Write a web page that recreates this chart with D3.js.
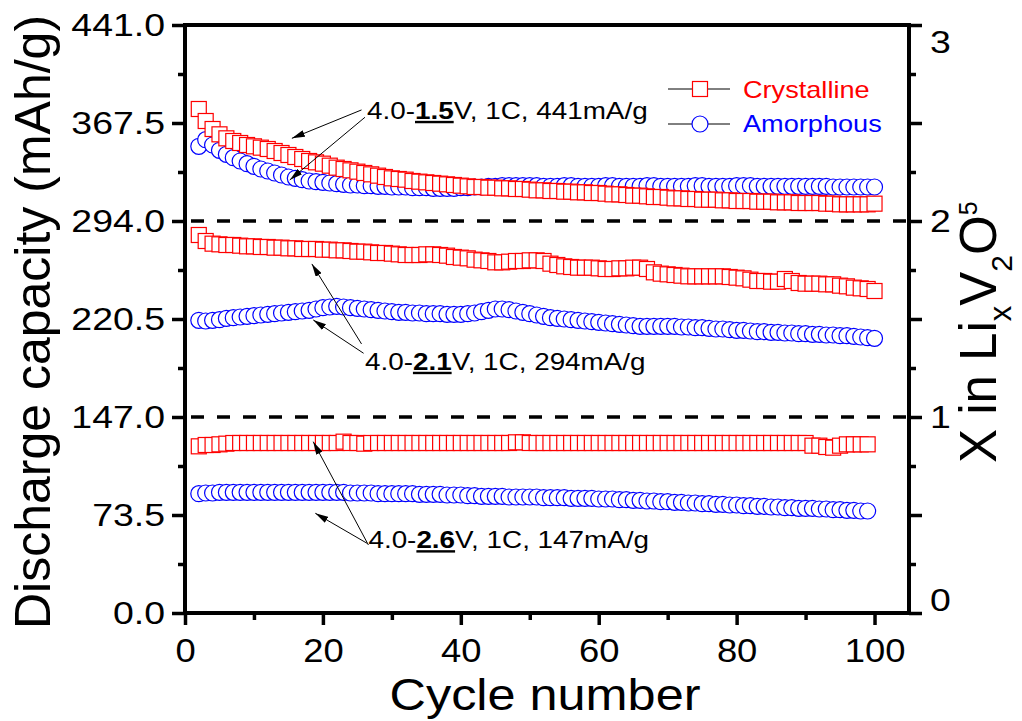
<!DOCTYPE html>
<html>
<head>
<meta charset="utf-8">
<script src="https://cdn.jsdelivr.net/npm/d3@7"></script>
<style>
  body { margin: 0; background: #fff; }
  svg { display: block; font-family: "Liberation Sans", Arial, sans-serif; }
</style>
</head>
<body>
<svg id="chart" width="1022" height="721"></svg>
<script>
// Cycle numbers (the 2.6 V runs stop at cycle 99).
const cycles = d3.range(2, 101);
const cyclesLow = d3.range(2, 100);

// Discharge capacity (mAh/g).
const cryst15 = [
  378, 369, 363, 359, 356, 354, 352.5, 351, 350, 349,
  348, 346.5, 345, 343.5, 342, 340.5, 339, 338, 337, 335.5,
  334, 333, 332, 331, 330, 329, 328, 327, 326, 325.5,
  325, 324, 323.5, 323, 322.5, 322, 321.5, 321, 320.5, 320,
  319.5, 319.5, 319, 319, 318.5, 318.5, 318, 318, 317.5, 317,
  317, 316.5, 316.5, 316, 316, 315.5, 315.5, 315, 315, 314.5,
  314, 314, 313.5, 313, 313, 312.5, 312, 312, 311.5, 311,
  311, 310.5, 310.5, 310, 310, 310, 309.5, 309.5, 309, 309,
  309, 308.5, 308.5, 308.5, 308, 308, 308, 307.5, 307.5, 307.5,
  307.5, 307, 307, 306.5, 306.5, 306.5, 306.5, 306.5, 307
];
const amorph15 = [
  350, 355, 351, 347, 344, 341.5, 339, 337, 335, 333,
  331.5, 330, 328.5, 327, 326, 325, 324, 323.5, 323, 322.5,
  322, 321.5, 321, 321, 320.5, 320.5, 320, 320, 319.5, 319.5,
  319.5, 319, 319, 319, 318.5, 318.5, 318.5, 318.5, 319, 319,
  319.5, 319.5, 320, 320, 320.5, 320.5, 320.5, 320.5, 320.5, 320.5,
  320, 320, 320, 320.5, 320.5, 320, 320, 320, 320, 320.5,
  320.5, 320, 320, 320, 320, 320.5, 320.5, 320, 320, 320,
  320, 320, 320.5, 320.5, 320, 320, 320, 320, 320.5, 320.5,
  320.5, 320, 320, 320, 320, 320, 320, 320, 320, 320,
  320, 320, 319.5, 319.5, 319.5, 319.5, 319.5, 319.5, 319.5
];
const cryst21 = [
  283.5, 279, 277, 276.5, 276, 276, 275.5, 275, 275, 274.5,
  274.5, 274, 274, 273.5, 273.5, 273, 273, 273, 272.5, 272.5,
  272, 272, 271.5, 271, 271, 270.5, 270, 270, 269.5, 269,
  268.5, 268.5, 268.5, 269, 269, 268.5, 268, 267, 266.5, 266,
  265, 264.5, 264, 263, 263, 263.5, 264, 264, 264.5, 264.5,
  264, 262, 261, 260, 259.5, 259, 259, 259, 258.5, 258,
  258, 258.5, 258.5, 259, 259, 258, 255.5, 254.5, 254, 253.5,
  253, 252.5, 252.5, 252.5, 252.5, 252.5, 252.5, 252, 251.5, 251,
  250, 249, 249, 248.5, 248.5, 250.5, 249, 247.5, 247, 247,
  247, 246.5, 246.5, 245.5, 245, 244, 243.5, 243, 241.5
];
const amorph21 = [
  219.5, 219, 219.5, 220, 221, 221.5, 222, 222.5, 223, 223.5,
  224, 224.5, 225, 225.5, 226, 226.5, 227, 228, 229, 229.5,
  230, 229.5, 229, 228.5, 228, 227.5, 227, 226.5, 226, 225.5,
  225.5, 225, 225, 224.5, 224.5, 224.5, 224, 224, 224, 224.5,
  225, 226, 227, 228, 228, 227.5, 226.5, 225.5, 224.5, 223.5,
  222.5, 221.5, 221, 220.5, 220, 219.5, 219, 218.5, 218, 217.5,
  217, 216.5, 216, 215.5, 215, 215, 215, 215, 215, 215,
  214.5, 214.5, 214, 214, 213.5, 213, 213, 212.5, 212, 212,
  211.5, 211, 211, 210.5, 210.5, 210, 210, 209.5, 209.5, 209,
  209, 208.5, 208.5, 208, 208, 207.5, 207, 206.5, 206
];
const cryst26 = [
  125, 126, 126, 126.5, 127, 127.5, 127.5, 127.5, 127.5, 127.5,
  127.5, 127.5, 127.5, 127.5, 127.5, 127.5, 127.5, 127.5, 127.5, 127.5,
  127.5, 128.5, 127.5, 127.5, 127, 127.5, 127.5, 127.5, 127.5, 127.5,
  127.5, 127.5, 127.5, 127.5, 127.5, 127.5, 127.5, 127.5, 127.5, 127.5,
  127.5, 127.5, 127.5, 127.5, 127.5, 127.5, 128, 128, 127.5, 127.5,
  127.5, 127.5, 127.5, 127.5, 127.5, 127.5, 127.5, 127.5, 127.5, 127.5,
  127.5, 127.5, 127.5, 127.5, 127.5, 127.5, 127.5, 127.5, 127.5, 127.5,
  127.5, 127.5, 127.5, 127.5, 127.5, 127.5, 127.5, 127.5, 127.5, 127.5,
  127.5, 127.5, 127.5, 127.5, 127.5, 127.5, 127.5, 127.5, 127.5, 125.5,
  125.5, 124.5, 124, 125.5, 126.5, 126.5, 126.5, 126.5
];
const amorph26 = [
  89.5, 90, 90, 90.5, 90.5, 90.5, 90.5, 90.5, 90.5, 90.5,
  90.5, 90.5, 90.5, 90.5, 90.5, 90.5, 90.5, 90.5, 90.5, 90.5,
  90.5, 90.5, 90, 90, 90, 90, 89.5, 89.5, 89.5, 89.5,
  89.5, 89.5, 89, 89, 89, 89, 88.5, 88.5, 88.5, 88,
  88, 87.5, 87.5, 87.5, 87.5, 87, 87, 87, 87, 87,
  86.5, 86.5, 86.5, 86.5, 86, 86, 86, 86, 85.5, 85.5,
  85.5, 85, 85, 84.5, 84.5, 84, 84, 83.5, 83.5, 83,
  83, 82.5, 82.5, 82, 82, 81.5, 81.5, 81, 81, 80.5,
  80.5, 80, 80, 79.5, 79.5, 79, 79, 78.5, 78.5, 78.5,
  78, 78, 77.5, 77.5, 77, 77, 76.5, 76.5
];

// Tick values.
const xMajor = [0, 20, 40, 60, 80, 100];
const xMinor = [10, 30, 50, 70, 90];
const yMajor = [0, 73.5, 147, 220.5, 294, 367.5, 441];
const yMinor = [36.75, 110.25, 183.75, 257.25, 330.75, 404.25];
const rMajor = [0, 0.5, 1, 1.5, 2, 2.5, 3];
const rMinor = [0.25, 0.75, 1.25, 1.75, 2.25, 2.75];
const refLines = [294, 147];

// Annotations, anchored in data units (cycle, mAh/g).
const notes = [
  { pre: "4.0-", bold: "1.5", post: "V, 1C, 441mA/g", at: [26.4, 370.5],
    arrows: [[[25.6, 377.3], [15.5, 356]], [[26.1, 371.8], [15.2, 324.8]]] },
  { pre: "4.0-", bold: "2.1", post: "V, 1C, 294mA/g", at: [26.1, 182.3],
    arrows: [[[25.6, 201.8], [18.4, 261.8]], [[25.9, 194.8], [18.6, 219.8]]] },
  { pre: "4.0-", bold: "2.6", post: "V, 1C, 147mA/g", at: [26.6, 48.5],
    arrows: [[[26.6, 51], [18.6, 128.5]], [[26.4, 52.3], [18.9, 74.8]]] }
];

const RED = "#ff0000", BLUE = "#0000ff";

const svg = d3.select("#chart");

const x = d3.scaleLinear().domain([0, 105]).range([185, 909]);
const y = d3.scaleLinear().domain([0, 441]).range([613, 25]);
const yR = d3.scaleLinear().domain([0, 3]).range([613, 25]);

// stretch text a bit wider, the original font is wider than Arial
function stretch(sel, k) {
  sel.each(function() {
    const w = this.getComputedTextLength();
    if (w > 0) d3.select(this).attr("textLength", w * k).attr("lengthAdjust", "spacingAndGlyphs");
  });
}

function styleAxis(g, fontSize) {
  g.select(".domain").remove();
  g.selectAll(".tick line").attr("stroke", "#000").attr("stroke-width", 3.5);
  g.selectAll(".tick text").attr("fill", "#000").style("font-size", fontSize + "px");
}

// Dashed reference lines.
svg.selectAll("line.ref")
  .data(refLines)
  .enter()
  .append("line")
  .attr("class", "ref")
  .attr("x1", x(0) + 6)
  .attr("x2", x(105))
  .attr("y1", d => y(d))
  .attr("y2", d => y(d))
  .attr("stroke", "#000")
  .attr("stroke-width", 3.5)
  .attr("stroke-dasharray", "13,13");

// Data series: blue first, red drawn over it.
const series = [
  { cyc: cyclesLow, vals: amorph26, color: BLUE, shape: "circle" },
  { cyc: cycles, vals: amorph21, color: BLUE, shape: "circle" },
  { cyc: cycles, vals: amorph15, color: BLUE, shape: "circle" },
  { cyc: cyclesLow, vals: cryst26, color: RED, shape: "square" },
  { cyc: cycles, vals: cryst21, color: RED, shape: "square" },
  { cyc: cycles, vals: cryst15, color: RED, shape: "square" }
];

const line = d3.line().x(d => x(d[0])).y(d => y(d[1]));

series.forEach(s => {
  const pts = s.cyc.map((c, i) => [c, s.vals[i]]);
  const g = svg.append("g");
  g.append("path")
    .attr("d", line(pts))
    .attr("fill", "none")
    .attr("stroke", "#000")
    .attr("stroke-width", 1);
  if (s.shape === "square") {
    g.selectAll("rect")
      .data(pts)
      .enter()
      .append("rect")
      .attr("x", d => x(d[0]) - 7.5)
      .attr("y", d => y(d[1]) - 7.5)
      .attr("width", 15)
      .attr("height", 15)
      .attr("fill", "#fff")
      .attr("stroke", s.color)
      .attr("stroke-width", 1.2);
  } else {
    g.selectAll("circle")
      .data(pts)
      .enter()
      .append("circle")
      .attr("cx", d => x(d[0]))
      .attr("cy", d => y(d[1]))
      .attr("r", 8)
      .attr("fill", "#fff")
      .attr("stroke", s.color)
      .attr("stroke-width", 1.2);
  }
});

// Frame.
svg.append("rect")
  .attr("x", x(0))
  .attr("y", y(441))
  .attr("width", x(105) - x(0))
  .attr("height", y(0) - y(441))
  .attr("fill", "none")
  .attr("stroke", "#000")
  .attr("stroke-width", 4);

// Bottom axis.
const xAxisG = svg.append("g")
  .attr("transform", `translate(0, ${y(0)})`)
  .call(d3.axisBottom(x).tickValues(xMajor).tickSize(12).tickPadding(13).tickFormat(d3.format("d")));
styleAxis(xAxisG, 34);
stretch(xAxisG.selectAll(".tick text"), 1.07);

const xMinorG = svg.append("g")
  .attr("transform", `translate(0, ${y(0)})`)
  .call(d3.axisBottom(x).tickValues(xMinor).tickSize(7).tickFormat(""));
styleAxis(xMinorG, 34);

// Left axis.
const yAxisG = svg.append("g")
  .attr("transform", `translate(${x(0)}, 0)`)
  .call(d3.axisLeft(y).tickValues(yMajor).tickSize(13).tickPadding(7).tickFormat(d3.format(".1f")));
styleAxis(yAxisG, 32);
stretch(yAxisG.selectAll(".tick text"), 1.17);

const yMinorG = svg.append("g")
  .attr("transform", `translate(${x(0)}, 0)`)
  .call(d3.axisLeft(y).tickValues(yMinor).tickSize(7).tickFormat(""));
styleAxis(yMinorG, 32);

// Right axis (x in LixV2O5).
const rAxisG = svg.append("g")
  .attr("transform", `translate(${x(105)}, 0)`)
  .call(d3.axisRight(yR).tickValues(rMajor).tickSize(13).tickPadding(8)
    .tickFormat(d => Number.isInteger(d) ? d : ""));
styleAxis(rAxisG, 32);
rAxisG.selectAll(".tick text")
  .attr("dy", d => d === 3 ? "27px" : d === 0 ? "-3px" : "10px");
stretch(rAxisG.selectAll(".tick text"), 1.17);

const rMinorG = svg.append("g")
  .attr("transform", `translate(${x(105)}, 0)`)
  .call(d3.axisRight(yR).tickValues(rMinor).tickSize(7).tickFormat(""));
styleAxis(rMinorG, 32);

// Axis titles.
const xTitle = svg.append("text")
  .attr("x", 545)
  .attr("y", 710)
  .attr("text-anchor", "middle")
  .style("font-size", "45px")
  .text("Cycle number");
stretch(xTitle, 1.12);

svg.append("text")
  .attr("transform", "translate(50, 322) rotate(-90)")
  .attr("text-anchor", "middle")
  .style("font-size", "50px")
  .text("Discharge capacity (mAh/g)");

const rTitle = svg.append("text")
  .attr("transform", "translate(996, 463) rotate(-90)")
  .style("font-size", "51px");
rTitle.append("tspan").text("X in Li");
rTitle.append("tspan").attr("dy", 15).style("font-size", "31px").text("x");
rTitle.append("tspan").attr("dy", -15).text("V");
rTitle.append("tspan").attr("dy", 16).style("font-size", "30px").text("2");
rTitle.append("tspan").attr("dy", -16).text("O");
rTitle.append("tspan").attr("dy", -19).style("font-size", "25px").text("5");

// Legend.
const legendItems = [
  { text: "Crystalline", color: RED, shape: "square" },
  { text: "Amorphous", color: BLUE, shape: "circle" }
];
const legend = svg.append("g").attr("transform", "translate(668, 89)");
legendItems.forEach((d, i) => {
  const row = legend.append("g").attr("transform", `translate(0, ${i * 35})`);
  row.append("line")
    .attr("x1", 0).attr("x2", 62)
    .attr("stroke", "#000").attr("stroke-width", 1);
  if (d.shape === "square") {
    row.append("rect")
      .attr("x", 24.5).attr("y", -7.5).attr("width", 15).attr("height", 15)
      .attr("fill", "#fff").attr("stroke", d.color).attr("stroke-width", 1.2);
  } else {
    row.append("circle")
      .attr("cx", 32).attr("r", 8)
      .attr("fill", "#fff").attr("stroke", d.color).attr("stroke-width", 1.2);
  }
  const t = row.append("text")
    .attr("x", 75)
    .attr("y", 9 - i)
    .attr("fill", d.color)
    .style("font-size", "24px")
    .text(d.text);
  stretch(t, 1.13);
});

// Arrow head.
svg.append("defs").append("marker")
  .attr("id", "head")
  .attr("viewBox", "0 0 10 10")
  .attr("refX", 10)
  .attr("refY", 5)
  .attr("markerWidth", 13)
  .attr("markerHeight", 7)
  .attr("markerUnits", "userSpaceOnUse")
  .attr("preserveAspectRatio", "none")
  .attr("orient", "auto")
  .append("path")
  .attr("d", "M0,0 L10,5 L0,10 z")
  .attr("fill", "#000");

// Annotations.
notes.forEach(n => {
  n.arrows.forEach(a => {
    svg.append("line")
      .attr("x1", x(a[0][0])).attr("y1", y(a[0][1]))
      .attr("x2", x(a[1][0])).attr("y2", y(a[1][1]))
      .attr("stroke", "#000")
      .attr("stroke-width", 1)
      .attr("marker-end", "url(#head)");
  });
  const t = svg.append("g")
    .attr("transform", `translate(${x(n.at[0])}, ${y(n.at[1])}) scale(1.16, 1)`)
    .append("text")
    .style("font-size", "24px");
  t.append("tspan").text(n.pre);
  t.append("tspan")
    .style("font-weight", "bold")
    .style("text-decoration", "underline")
    .text(n.bold);
  t.append("tspan").text(n.post);
});
</script>
</body>
</html>
